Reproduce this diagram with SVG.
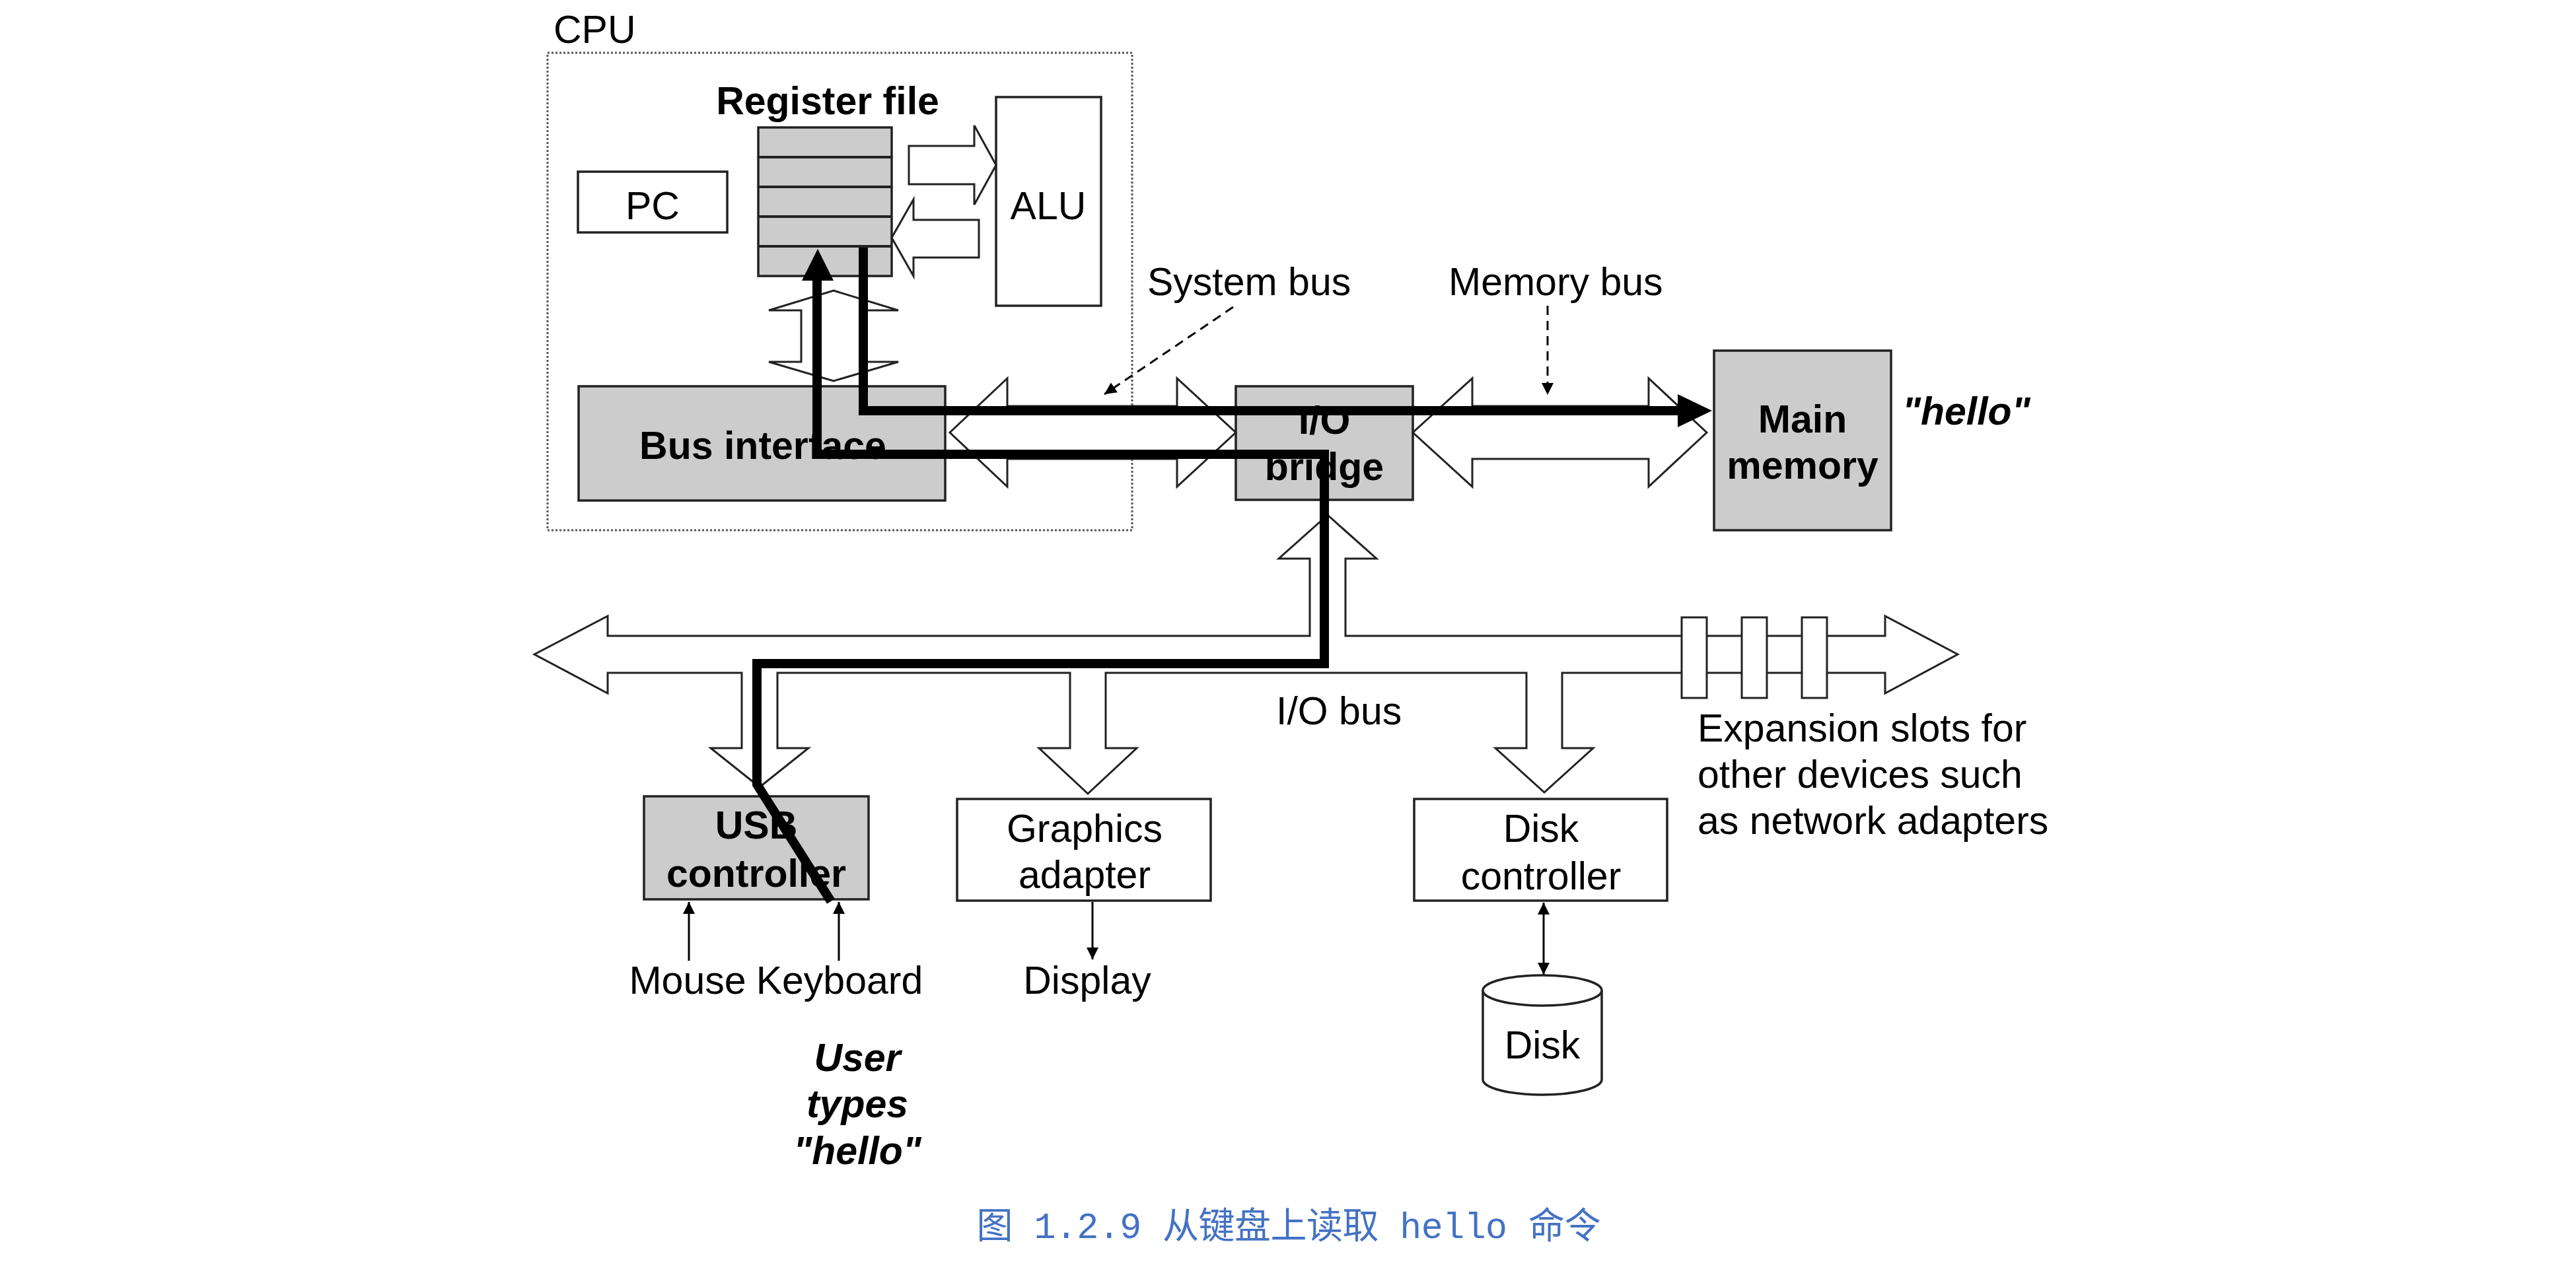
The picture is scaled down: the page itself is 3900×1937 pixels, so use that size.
<svg xmlns="http://www.w3.org/2000/svg" width="3900" height="1937" viewBox="0 0 3900 1937">
<style>
text{font-family:"Liberation Sans",Arial,sans-serif;font-size:59px;fill:#000}
.b{font-weight:bold}
.bi{font-weight:bold;font-style:italic}
.m{text-anchor:middle}
.box{fill:#fff;stroke:#222;stroke-width:3.5}
.gray{fill:#cccccc;stroke:#222;stroke-width:3.5}
.bus{fill:#fff;stroke:#222;stroke-width:3;stroke-linejoin:miter}
.thin{fill:none;stroke:#000;stroke-width:3}
.dash{fill:none;stroke:#000;stroke-width:3;stroke-dasharray:14 9}
.thick{fill:none;stroke:#000;stroke-width:14;stroke-linejoin:miter;stroke-linecap:butt}
.cap{font-family:"Liberation Mono","Noto Sans CJK SC",monospace;font-size:55px;fill:#4472C4}
</style>
<defs>
<marker id="ah" viewBox="0 0 10 10" refX="10" refY="5" markerWidth="8" markerHeight="6" markerUnits="strokeWidth" orient="auto-start-reverse">
<path d="M0,0 L10,5 L0,10 Z" fill="#000"/>
</marker>
</defs>
<rect width="3900" height="1937" fill="#fff"/>

<g id="cpu">
<rect x="829" y="80" width="885" height="723" fill="none" stroke="#555" stroke-width="3" stroke-dasharray="3 3"/>
<text x="838" y="65">CPU</text>
</g>

<g id="pc">
<rect class="box" x="875" y="260" width="226" height="92"/>
<text class="m" x="988" y="332">PC</text>
</g>

<g id="register-file">
<text class="b m" x="1253" y="173">Register file</text>
<rect class="gray" x="1148" y="193" width="202" height="225"/>
<path d="M1148,238 H1350 M1148,283 H1350 M1148,328 H1350 M1148,373 H1350" stroke="#222" stroke-width="4"/>
</g>

<g id="alu">
<rect class="box" x="1508" y="147" width="159" height="316"/>
<text class="m" x="1587" y="332">ALU</text>
</g>

<g id="bus-interface">
<rect class="gray" x="876" y="585" width="555" height="173"/>
<text class="b m" x="1155" y="695">Bus interface</text>
</g>

<g id="io-bridge">
<rect class="gray" x="1871" y="585" width="268" height="172"/>
<text class="b m" x="2005" y="657">I/O</text>
<text class="b m" x="2005" y="727">bridge</text>
</g>

<g id="main-memory">
<rect class="gray" x="2595" y="531" width="268" height="272"/>
<text class="b m" x="2729" y="655">Main</text>
<text class="b m" x="2729" y="725">memory</text>
<text class="bi" x="2880" y="643">"hello"</text>
</g>

<g id="usb-controller">
<rect class="gray" x="975" y="1206" width="340" height="156"/>
<text class="b m" x="1145" y="1270">USB</text>
<text class="b m" x="1145" y="1343">controller</text>
</g>

<g id="graphics-adapter">
<rect class="box" x="1449" y="1210" width="384" height="154"/>
<text class="m" x="1642" y="1275">Graphics</text>
<text class="m" x="1642" y="1345">adapter</text>
</g>

<g id="disk-controller">
<rect class="box" x="2141" y="1210" width="383" height="154"/>
<text class="m" x="2333" y="1275">Disk</text>
<text class="m" x="2333" y="1347">controller</text>
</g>

<g id="disk">
<path d="M2245,1500 V1635 A90,23 0 0 0 2425,1635 V1500" fill="#fff" stroke="#222" stroke-width="3.5"/>
<ellipse cx="2335" cy="1500" rx="90" ry="23" fill="#fff" stroke="#222" stroke-width="3.5"/>
<text class="m" x="2335" y="1603">Disk</text>
</g>

<g id="devices">
<text class="m" x="1041" y="1505">Mouse</text>
<text class="m" x="1271" y="1505">Keyboard</text>
<text class="m" x="1646" y="1505">Display</text>
</g>

<g id="labels">
<text x="1737" y="447">System bus</text>
<text x="2193" y="447">Memory bus</text>
<text x="1932" y="1097">I/O bus</text>
<text x="2570" y="1123">Expansion slots for</text>
<text x="2570" y="1193">other devices such</text>
<text x="2570" y="1263">as network adapters</text>
<text class="bi m" x="1298" y="1622">User</text>
<text class="bi m" x="1298" y="1692">types</text>
<text class="bi m" x="1298" y="1763">"hello"</text>
</g>

<g id="connectors">
<!-- register file <-> ALU -->
<polygon class="bus" points="1376,221 1475,221 1475,190 1508,250 1475,310 1475,279 1376,279"/>
<polygon class="bus" points="1482,333 1383,333 1383,302 1350,360 1383,418 1383,390 1482,390"/>
<!-- register file <-> bus interface -->
<polygon class="bus" points="1262,440 1360,470 1311,470 1311,548 1360,548 1262,577 1164,548 1213,548 1213,470 1164,470"/>
<!-- system bus -->
<polygon class="bus" points="1438,655 1525,573 1525,615 1782,615 1782,573 1871,655 1782,737 1782,695 1525,695 1525,737"/>
<!-- memory bus -->
<polygon class="bus" points="2139,655 2229,573 2229,615 2496,615 2496,573 2584,655 2496,737 2496,695 2229,695 2229,737"/>
<!-- I/O bus with branches -->
<path class="bus" d="M809,991 L920,933 L920,963 L1983,963 L1983,846 L1936,846 L2010,780 L2084,846 L2037,846 L2037,963 L2854,963 L2854,933 L2964,991 L2854,1050 L2854,1019 L2365,1019 L2365,1133 L2412,1133 L2338,1200 L2264,1133 L2311,1133 L2311,1019 L1674,1019 L1674,1133 L1721,1133 L1647,1202 L1573,1133 L1620,1133 L1620,1019 L1177,1019 L1177,1133 L1224,1133 L1150,1192 L1076,1133 L1123,1133 L1123,1019 L920,1019 L920,1050 Z"/>
<!-- expansion slots -->
<rect class="bus" x="2546" y="935" width="38" height="122"/>
<rect class="bus" x="2637" y="935" width="38" height="122"/>
<rect class="bus" x="2728" y="935" width="38" height="122"/>
<!-- dashed label pointers -->
<line class="dash" x1="1867" y1="465" x2="1672" y2="597" marker-end="url(#ah)"/>
<line class="dash" x1="2343" y1="463" x2="2343" y2="598" marker-end="url(#ah)"/>
<!-- thin device arrows -->
<line class="thin" x1="1043" y1="1455" x2="1043" y2="1366" marker-end="url(#ah)"/>
<line class="thin" x1="1270" y1="1455" x2="1270" y2="1366" marker-end="url(#ah)"/>
<line class="thin" x1="1654" y1="1366" x2="1654" y2="1453" marker-end="url(#ah)"/>
<line class="thin" x1="2337" y1="1367" x2="2337" y2="1476" marker-start="url(#ah)" marker-end="url(#ah)"/>
<!-- data flow: keyboard to register file -->
<path class="thick" d="M1258,1365 L1146,1188 L1146,1005 L2005,1005 L2005,688 L1237,688 L1237,420"/>
<polygon points="1238,377 1262,425 1214,425" fill="#000"/>
<!-- data flow: register file to main memory -->
<path class="thick" d="M1307,375 L1307,622 L2545,622"/>
<polygon points="2592,622 2540,597 2540,647" fill="#000"/>
</g>

<text class="cap" x="1951" y="1875" text-anchor="middle" textLength="945">图 1.2.9 从键盘上读取 hello 命令</text>
</svg>
